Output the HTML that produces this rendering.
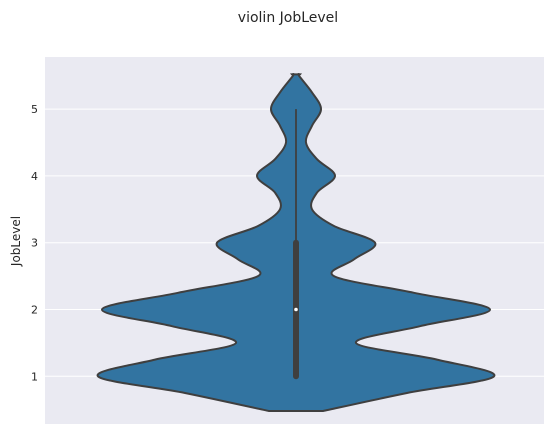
<!DOCTYPE html>
<html><head><meta charset="utf-8"><style>
body{margin:0;background:#fff;font-family:"Liberation Sans","DejaVu Sans",sans-serif}
</style></head><body>
<svg width="554" height="437" xmlns="http://www.w3.org/2000/svg">
<text x="288" y="22" text-anchor="middle" font-size="14" fill="#262626" font-family="DejaVu Sans, Liberation Sans, sans-serif">violin JobLevel</text>
<rect x="45" y="57" width="499" height="367" fill="#eaeaf2"/>
<g id="grid"></g>
<g id="yticks"></g>
<text transform="translate(20,241) rotate(-90)" text-anchor="middle" font-size="12" fill="#262626" font-family="DejaVu Sans, Liberation Sans, sans-serif">JobLevel</text>
<g id="violin"></g>
</svg>
<script>
const levels=[0.48,0.75,1,1.25,1.5,1.75,2,2.25,2.5,2.75,3,3.25,3.5,3.75,4,4.25,4.5,4.75,5,5.25,5.5,5.52];
const density=[27,111,198,141,60,124,194,118,38,58,79,38,16,21,39,21,10,16,25,16,3,4];
const tickValues=[1,2,3,4,5];
const tickLabels=["1","2","3","4","5"];
const boxStats=[1,1,2,3,5];
const NS="http://www.w3.org/2000/svg";
const cx=296;
function yS(v){return 376.3-(v-1)*66.8;}
function wS(d){return d;}
const grid=document.getElementById('grid'),yt=document.getElementById('yticks'),vg=document.getElementById('violin');
tickValues.forEach((t,i)=>{
 const l=document.createElementNS(NS,'line');
 l.setAttribute('x1',45);l.setAttribute('x2',544);l.setAttribute('y1',yS(t));l.setAttribute('y2',yS(t));
 l.setAttribute('stroke','#fff');l.setAttribute('stroke-width','1');
 
 
 grid.appendChild(l);
 const tx=document.createElementNS(NS,'text');
 tx.setAttribute('x',38);tx.setAttribute('y',yS(t)+4);tx.setAttribute('text-anchor','end');
 tx.setAttribute('font-size','11');tx.setAttribute('fill','#262626');
 tx.setAttribute('font-family','DejaVu Sans, Liberation Sans, sans-serif');
 tx.textContent=tickLabels[i];
 
 
 yt.appendChild(tx);
});
function curve(pts){
 let d='';
 for(let i=0;i<pts.length-1;i++){
  const p0=pts[Math.max(0,i-1)],p1=pts[i],p2=pts[i+1],p3=pts[Math.min(pts.length-1,i+2)];
  const c1=[p1[0]+(p2[0]-p0[0])/6,p1[1]+(p2[1]-p0[1])/6];
  const c2=[p2[0]-(p3[0]-p1[0])/6,p2[1]-(p3[1]-p1[1])/6];
  d+=` C${c1[0]},${c1[1]} ${c2[0]},${c2[1]} ${p2[0]},${p2[1]}`;
 }
 return d;
}
const right=levels.map((v,i)=>[cx+wS(density[i]),yS(v)]);
const left=levels.map((v,i)=>[cx-wS(density[i]),yS(v)]).reverse();
let d=`M${cx-wS(density[0])},${yS(levels[0])} L${right[0][0]},${right[0][1]}`+curve(right)+` L${left[0][0]},${left[0][1]}`+curve(left)+'Z';
const p=document.createElementNS(NS,'path');
p.setAttribute('d',d);p.setAttribute('fill','#3274a1');p.setAttribute('stroke','#3f3f3f');p.setAttribute('stroke-width','2');


vg.appendChild(p);
const wh=document.createElementNS(NS,'line');
wh.setAttribute('x1',cx);wh.setAttribute('x2',cx);wh.setAttribute('y1',yS(boxStats[0]));wh.setAttribute('y2',yS(boxStats[4]));
wh.setAttribute('stroke','#3f3f3f');wh.setAttribute('stroke-width','1.8');


vg.appendChild(wh);
const bx=document.createElementNS(NS,'line');
bx.setAttribute('x1',cx);bx.setAttribute('x2',cx);bx.setAttribute('y1',yS(boxStats[1]));bx.setAttribute('y2',yS(boxStats[3]));
bx.setAttribute('stroke','#3f3f3f');bx.setAttribute('stroke-width','6');bx.setAttribute('stroke-linecap','round');


vg.appendChild(bx);
const md=document.createElementNS(NS,'circle');
md.setAttribute('cx',cx);md.setAttribute('cy',yS(boxStats[2]));md.setAttribute('r','1.8');md.setAttribute('fill','#fff');


vg.appendChild(md);
</script>
</body></html>
